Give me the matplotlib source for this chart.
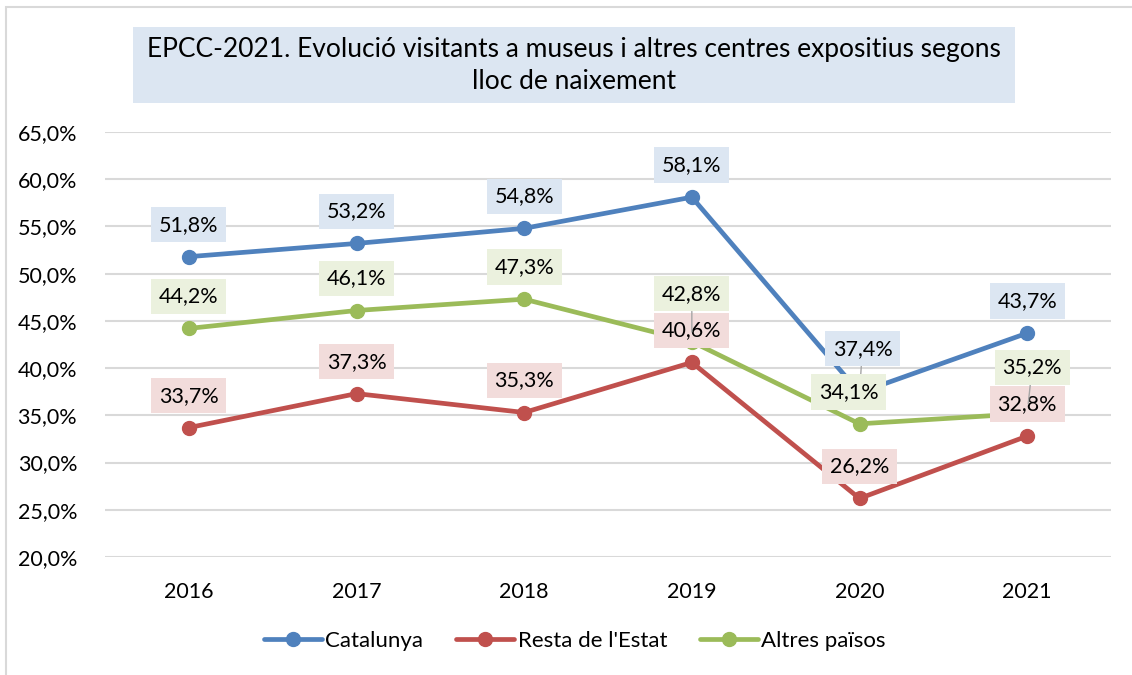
import matplotlib
matplotlib.use("Agg")
import matplotlib.pyplot as plt
from matplotlib.patches import Rectangle

years = ["2016", "2017", "2018", "2019", "2020", "2021"]
catalunya = [51.8, 53.2, 54.8, 58.1, 37.4, 43.7]
resta_estat = [33.7, 37.3, 35.3, 40.6, 26.2, 32.8]
altres_paisos = [44.2, 46.1, 47.3, 42.8, 34.1, 35.2]

title = "EPCC-2021. Evolució visitants a museus i altres centres expositius segons\nlloc de naixement"

plt.rcParams["font.family"] = ["Lato", "DejaVu Sans"]


def pct(v):
    return f"{v:.1f}".replace(".", ",") + "%"


def main():
    fig = plt.figure(figsize=(11.32, 6.75), dpi=100)
    ax = fig.add_axes([105 / 1132, 1 - 557 / 675, 1006 / 1132, 425 / 675])

    # outer frame of the chart area
    fig.patches.append(Rectangle((6 / 1132, -0.05), 1.1, 1 - 7 / 675 + 0.05,
                                 transform=fig.transFigure, fill=False,
                                 edgecolor="#D9D9D9", lw=1.5))

    # title box
    fig.patches.append(Rectangle((133 / 1132, 1 - 103 / 675), 882 / 1132, 76 / 675,
                                 transform=fig.transFigure, facecolor="#DCE6F2",
                                 edgecolor="none"))
    fig.text(574 / 1132, 1 - 65.5 / 675, title, ha="center", va="center",
             fontsize=19, linespacing=1.38, color="#000000")

    series = [
        ("Catalunya", catalunya, "#4F81BD", "#DCE6F2", 5),
        ("Resta de l'Estat", resta_estat, "#C0504D", "#F2DCDB", 6),
        ("Altres països", altres_paisos, "#9BBB59", "#EBF1DE", 7),
    ]
    x = list(range(len(years)))

    # label offsets (pixels) where Excel moved labels
    special = {
        ("Catalunya", 4): (3, 44),
        ("Altres països", 3): (0, 48),
        ("Altres països", 5): (5, 46),
        ("Altres països", 4): (-11, 32),
    }

    for name, vals, col, bg, z in series:
        ax.plot(x, vals, color=col, lw=3.4, marker="o", markersize=10,
                label=name, zorder=3, solid_capstyle="round")
        for i, v in enumerate(vals):
            dx, dy = special.get((name, i), (0, 32))
            leader = (name, i) in [("Catalunya", 4), ("Altres països", 3), ("Altres països", 5)]
            ax.annotate(pct(v), xy=(i, v), xytext=(dx, dy), textcoords="offset pixels",
                        ha="center", va="center", fontsize=15.5, color="#000000",
                        bbox=dict(boxstyle="square,pad=0.36", facecolor=bg, edgecolor="none"),
                        arrowprops=dict(arrowstyle="-", color="#A6A6A6", lw=1,
                                        shrinkA=0, shrinkB=7) if leader else None,
                        zorder=z)

    ax.set_xlim(-0.5, 5.5)
    ax.set_ylim(20, 65)
    ax.set_yticks(range(20, 66, 5))
    ax.set_yticklabels([pct(t) for t in range(20, 66, 5)])
    ax.set_xticks(x)
    ax.set_xticklabels(years)
    ax.tick_params(axis="both", length=0, labelsize=15.5, colors="#000000")
    ax.tick_params(axis="y", pad=20)
    ax.tick_params(axis="x", pad=18)
    ax.grid(axis="y", color="#D9D9D9", lw=1.5)
    ax.set_axisbelow(True)
    for s in ax.spines.values():
        s.set_visible(False)

    fig.legend(loc="center", bbox_to_anchor=(575 / 1132, 1 - 641 / 675), ncol=3,
               frameon=False, fontsize=16, handlelength=2.6, columnspacing=1.5,
               handletextpad=0.15)

    fig.savefig("out.png", dpi=100)


if __name__ == "__main__":
    main()
